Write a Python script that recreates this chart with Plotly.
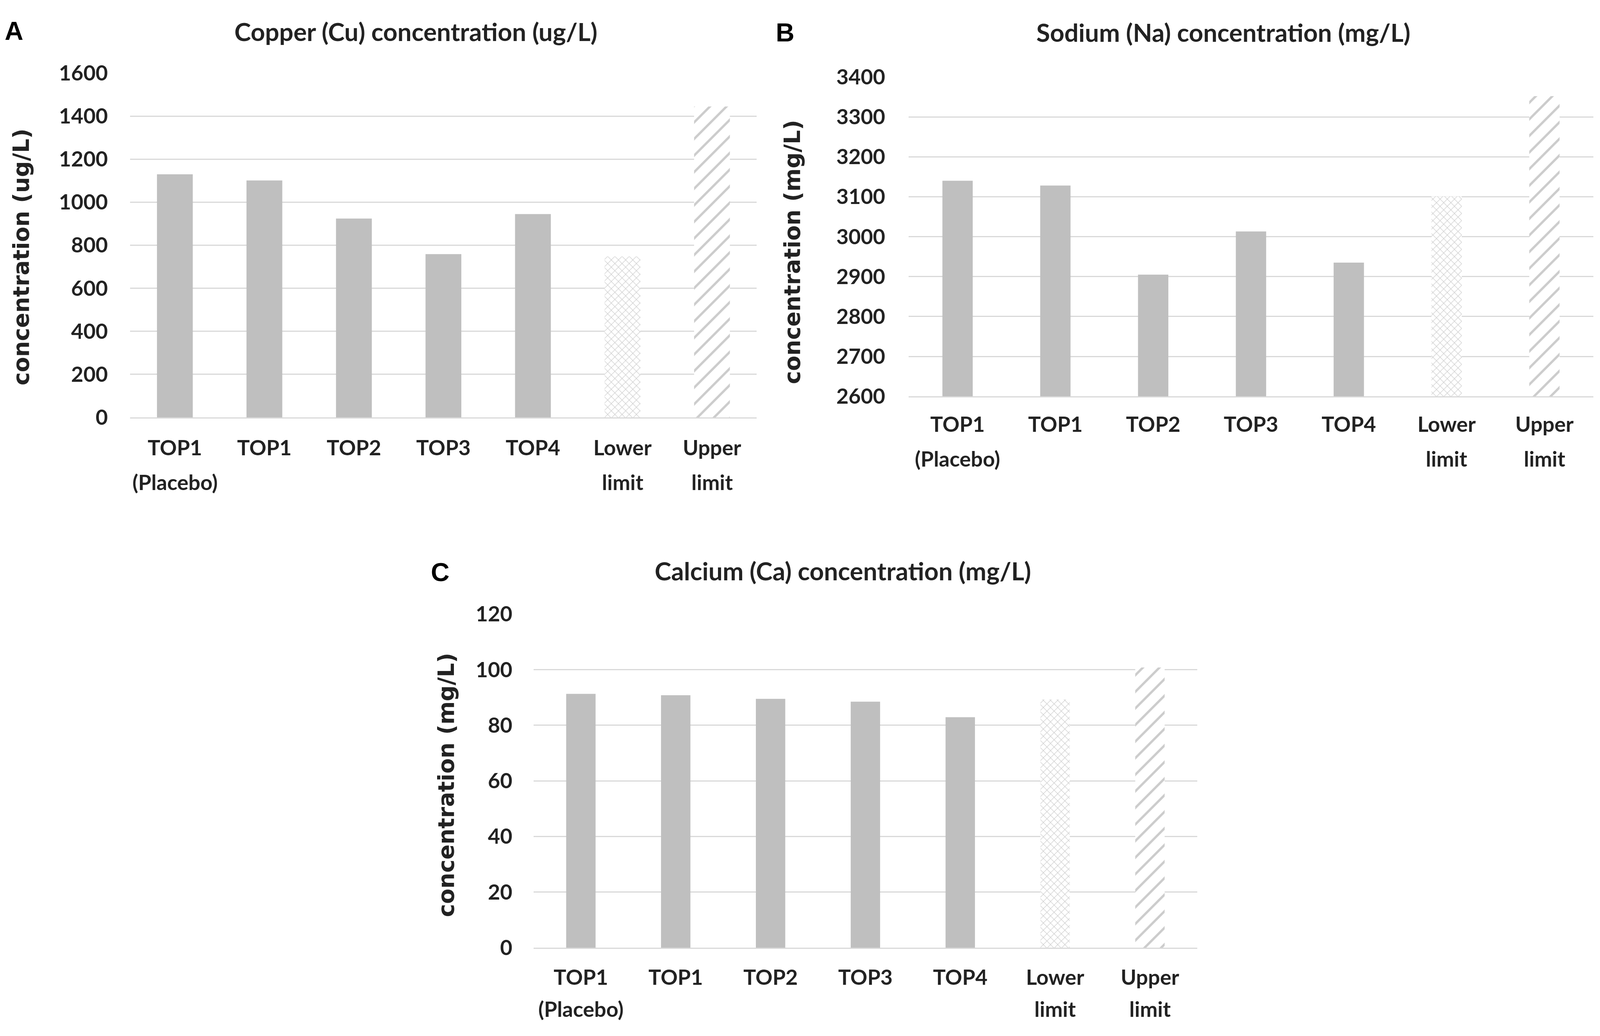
import plotly.graph_objects as go

RW, H = 4550, 2651      # reference frame used for positions
W = 4096                # actual browser viewport width

categories = ["TOP1 (Placebo)", "TOP1", "TOP2", "TOP3", "TOP4", "Lower limit", "Upper limit"]
label_line1 = ["TOP1", "TOP1", "TOP2", "TOP3", "TOP4", "Lower", "Upper"]
label_line2 = ["(Placebo)", "", "", "", "", "limit", "limit"]

cu_values = [1130, 1101, 924, 759, 945, 748, 1445]
na_values = [3140, 3128, 2905, 3013, 2935, 3101, 3352]
ca_values = [91.3, 90.8, 89.5, 88.5, 82.9, 89.3, 100.8]

titles = ["Copper (Cu) concentration (ug/L)",
          "Sodium (Na) concentration (mg/L)",
          "Calcium (Ca) concentration (mg/L)"]
ytitles = ["concentration (ug/L)", "concentration (mg/L)", "concentration (mg/L)"]
letters = ["A", "B", "C"]

BAR = "#bfbfbf"
GRID = "#d9d9d9"
TXT = "#222222"
SX = W / RW
FS = 54

fig = go.Figure()
series = [cu_values, na_values, ca_values]
axes = [("x", "y"), ("x2", "y2"), ("x3", "y3")]
widths = [0.40, 0.31, 0.31]
for vals, (xa, ya), bw in zip(series, axes, widths):
    fig.add_trace(go.Bar(x=categories[:5], y=vals[:5], xaxis=xa, yaxis=ya, width=bw,
                         marker=dict(color=BAR, line=dict(width=0)),
                         showlegend=False, hoverinfo="skip"))
    fig.add_trace(go.Bar(x=categories[5:6], y=vals[5:6], xaxis=xa, yaxis=ya, width=bw,
                         marker=dict(color="white", line=dict(width=0),
                                     pattern=dict(shape="x", fgcolor="#9c9c9c", bgcolor="white",
                                                  size=13, solidity=0.18, fillmode="overlay")),
                         showlegend=False, hoverinfo="skip"))
    fig.add_trace(go.Bar(x=categories[6:7], y=vals[6:7], xaxis=xa, yaxis=ya, width=bw,
                         marker=dict(color="white", line=dict(width=0),
                                     pattern=dict(shape="/", fgcolor="#9a9a9a", bgcolor="white",
                                                  size=30, solidity=0.2, fillmode="overlay")),
                         showlegend=False, hoverinfo="skip"))

tickfont = dict(family="Lato", size=FS, color=TXT, weight="bold")

def xax(domain, anchor, standoff):
    return dict(domain=[domain[0] / RW, domain[1] / RW], anchor=anchor, type="category",
                categoryorder="array", categoryarray=categories,
                tickmode="array", tickvals=categories, ticktext=label_line1,
                showgrid=False, showline=True, linecolor=GRID, linewidth=3, ticks="",
                tickfont=tickfont, ticklabelstandoff=standoff, range=[-0.5, 6.5],
                fixedrange=True)

def yax(domain, anchor, rng, dtick, standoff):
    return dict(domain=[1 - domain[0] / H, 1 - domain[1] / H], anchor=anchor, range=rng,
                dtick=dtick, showgrid=True, gridcolor=GRID, gridwidth=3, zeroline=False,
                showline=False, ticks="", tickfont=tickfont,
                ticklabelstandoff=round(standoff * SX), fixedrange=True)

fig.update_layout(
    width=W, height=H, margin=dict(l=0, r=0, t=0, b=0),
    paper_bgcolor="white", plot_bgcolor="white",
    barmode="overlay",
    xaxis=xax([370, 2152], "y", 29),
    yaxis=yax([1060, 157], "x", [0, 1600], 200, 62),
    xaxis2=xax([2584, 4531], "y2", 23),
    yaxis2=yax([1005, 167], "x2", [2600, 3400], 100, 66),
    xaxis3=xax([1517, 3405], "y3", 27),
    yaxis3=yax([2451, 1576], "x3", [0, 120], 20, 59),
)

ann = []
title_pos = [(1183, 48), (3479, 50), (2397, 1462)]
letter_pos = [(40, 46), (2233, 50), (1252, 1466)]
ytitle_pos = [(60, 640), (2252, 626), (1269, 2024)]
line2_y = [1230, 1168, 2612]
for t, (px, py) in zip(titles, title_pos):
    ann.append(dict(text="<b>" + t + "</b>", x=px / RW, y=1 - py / H, xref="paper", yref="paper",
                    xanchor="center", yanchor="middle", showarrow=False,
                    font=dict(family="Lato", size=64, color=TXT)))
for t, (px, py) in zip(letters, letter_pos):
    ann.append(dict(text="<b>" + t + "</b>", x=px / RW, y=1 - py / H, xref="paper", yref="paper",
                    xanchor="center", yanchor="middle", showarrow=False,
                    font=dict(family="Liberation Sans", size=66, color="black")))
for t, (px, py) in zip(ytitles, ytitle_pos):
    ann.append(dict(text="<b>" + t + "</b>", x=px / RW, y=1 - py / H, xref="paper", yref="paper",
                    xanchor="center", yanchor="middle", showarrow=False, textangle=-90,
                    font=dict(family="DejaVu Sans", size=57, color=TXT)))
for (xa, _), py in zip(axes, line2_y):
    for cat, txt in zip(categories, label_line2):
        if txt:
            ann.append(dict(text=txt, x=cat, y=1 - py / H, xref=xa, yref="paper",
                            xanchor="center", yanchor="middle", showarrow=False,
                            font=tickfont))
fig.update_layout(annotations=ann)

fig.write_html("out.html", config={"displayModeBar": False},
               post_script="document.body.style.margin='0';")
